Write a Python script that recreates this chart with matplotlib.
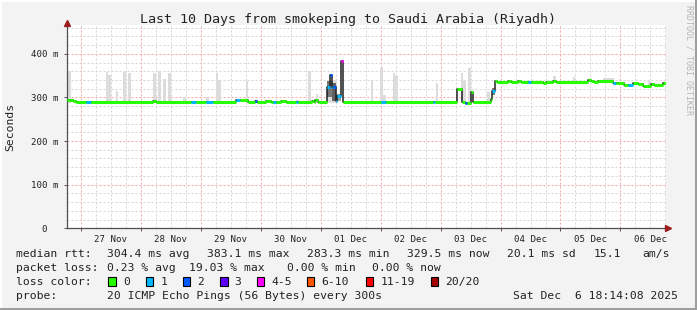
import numpy as np
import pandas as pd
import matplotlib
matplotlib.use("Agg")
import matplotlib.pyplot as plt
import matplotlib.dates as mdates
from matplotlib.lines import Line2D
from matplotlib.patches import Rectangle

W, H, DPI = 697, 310, 100
MONO = "DejaVu Sans Mono"

title = "Last 10 Days from smokeping to Saudi Arabia (Riyadh)"
start = pd.Timestamp("2025-11-26 18:14:08")
n_days = 10

# median rtt as steps: hours since start, value in ms, lost pings (of 20)
med_h = [0.0, 1.5, 2.7, 3.9, 7.9, 9.9, 34.7, 35.9, 49.9, 51.9, 55.9, 58.7,
         67.9, 69.5, 72.7, 75.5, 76.3, 79.9, 81.9, 82.7, 83.9, 85.9, 87.9,
         91.9, 92.7, 98.3, 99.1, 99.5, 100.7, 104.3, 105.5, 106.3, 106.7,
         107.9, 108.3, 109.9, 110.7, 125.9, 127.9, 146.7, 147.5, 156.3,
         158.3, 159.5, 160.3, 161.9, 162.7, 169.9, 170.3, 171.5, 172.3,
         176.7, 177.9, 180.7, 181.9, 184.7, 185.9, 190.7, 191.9, 194.7,
         195.9, 208.7, 209.9, 211.1, 212.7, 218.7, 219.9, 220.7, 223.1,
         224.7, 226.7, 228.7, 230.7, 233.9, 235.1, 236.7, 238.7, 240.0]
med_ms = [295, 293, 292, 290, 289, 290, 292, 290, 290, 290, 290, 290,
          293, 293, 290, 292, 290, 292, 290, 289, 290, 292, 290,
          290, 290, 292, 290, 295, 290, 325, 351, 325, 325,
          291, 303, 383, 290, 290, 290, 290, 290, 319,
          290, 287, 288, 312, 290, 296, 315, 338, 336,
          338, 336, 338, 336, 336, 336, 334, 336, 338,
          336, 340, 337, 336, 337, 334, 334, 332, 328,
          328, 334, 330, 327, 331, 329, 328, 332, 332]
med_loss = [0, 0, 0, 0, 1, 0, 0, 0, 1, 0, 1, 0,
            1, 0, 0, 2, 0, 0, 0, 1, 0, 0, 0,
            1, 0, 0, 0, 0, 0, 1, 2, 1, 2,
            1, 1, 4, 0, 1, 0, 1, 0, 0,
            0, 2, 0, 0, 0, 0, 1, 0, 0,
            0, 0, 0, 0, 1, 0, 0, 0, 0,
            0, 0, 0, 0, 0, 1, 0, 0, 0,
            1, 0, 0, 0, 0, 0, 0, 0, 0]

# light smoke (ping spread): start hour, width hours, low ms, high ms
smoke_h = [0.7, 15.9, 16.7, 19.9, 22.7, 24.7, 34.7, 36.7, 38.7, 40.7, 46.7,
           55.9, 59.9, 60.7, 71.9, 91.9, 96.7, 99.9, 104.3, 121.9, 125.5,
           126.7, 130.7, 131.5, 147.9, 150.3, 157.9, 158.7, 160.7, 168.3,
           194.7, 202.7, 214.7, 232.7]
smoke_w = [1.2, 0.8, 1.2, 0.8, 1.2, 1.2, 1.2, 1.2, 1.2, 1.2, 1.2,
           1.2, 0.8, 1.2, 0.8, 1.2, 1.2, 0.8, 4.0, 0.8, 1.2,
           1.2, 0.8, 1.2, 0.8, 1.6, 0.8, 1.2, 1.2, 1.2,
           1.2, 0.8, 4.4, 1.2]
smoke_lo = [287] * 30 + [332, 332, 332, 328]
smoke_hi = [360, 359, 351, 314, 359, 357, 356, 360, 342, 356, 301,
            300, 357, 340, 338, 294, 360, 308, 340, 340, 368,
            305, 357, 348, 333, 292, 357, 338, 368, 312,
            350, 347, 345, 338]

# darker smoke inside the loss spikes
dark_h = [104.3, 106.3, 108.3, 170.3]
dark_w = [2.0, 1.6, 1.6, 1.2]
dark_lo = [300, 292, 291, 305]
dark_hi = [338, 333, 307, 322]
dark_c = ["#777777", "#606060", "#9a9a9a", "#808080"]

loss_labels = ["0", "1", "2", "3", "4-5", "6-10", "11-19", "20/20"]
loss_colors = ["#26ff00", "#00b8ff", "#0059ff", "#5e00ff", "#ff00ff",
               "#ff5500", "#ff0000", "#a10000"]
loss_bins = [0, 1, 2, 3, 5, 10, 19, 20]

y_ticks = [0, 100, 200, 300, 400]
y_labels = ["0  ", "100 m", "200 m", "300 m", "400 m"]

stats_rtt = ["median rtt:", "304.4 ms avg", "383.1 ms max", "283.3 ms min",
             "329.5 ms now", "20.1 ms sd", "15.1", "am/s"]
stats_rtt_x = [16, 107.3, 207.3, 306.7, 407.3, 507.3, 593.3, 642.7]
stats_loss = ["packet loss:", "0.23 % avg", "19.03 % max", "0.00 % min", "0.00 % now"]
stats_loss_x = [16, 107.3, 189.3, 286.7, 372.3]
probe_text = "20 ICMP Echo Pings (56 Bytes) every 300s"
date_text = "Sat Dec  6 18:14:08 2025"


def fx(px):
    return px / W


def fy(py):
    return 1 - py / H


def loss_index(n):
    for i, b in enumerate(loss_bins):
        if n <= b:
            return i
    return len(loss_bins) - 1


fig = plt.figure(figsize=(W / DPI, H / DPI), dpi=DPI, facecolor="#f3f3f3")
ax = fig.add_axes([fx(66.5), fy(228.3), (666 - 66.5) / W, (228.3 - 25) / H])
ax.set_facecolor("white")

t0 = mdates.date2num(start.to_pydatetime())
ax.set_xlim(t0, t0 + n_days)
ax.set_ylim(0, 466)

# grid
dot = (0, (2, 2))
for v in range(20, 466, 20):
    if v % 100:
        ax.axhline(v, color="#d6d6d6", lw=0.72, ls=dot, zorder=0)
for v in range(100, 466, 100):
    ax.axhline(v, color="#f0a8a8", lw=0.72, ls=dot, zorder=0.5)
first_mid = mdates.date2num(start.normalize().to_pydatetime())
for k in range(0, (n_days + 1) * 4 + 1):
    t = first_mid + k * 0.25
    if t0 < t < t0 + n_days:
        if k % 4:
            ax.axvline(t, color="#d6d6d6", lw=0.72, ls=dot, zorder=0)
        else:
            ax.axvline(t, color="#f0a8a8", lw=0.72, ls=dot, zorder=0.5)

# smoke
sx = t0 + np.array(smoke_h) / 24
ax.bar(sx, np.array(smoke_hi) - np.array(smoke_lo), width=np.array(smoke_w) / 24,
       bottom=smoke_lo, align="edge", color="#dcdcdc", lw=0, zorder=1)
dx = t0 + np.array(dark_h) / 24
ax.bar(dx, np.array(dark_hi) - np.array(dark_lo), width=np.array(dark_w) / 24,
       bottom=dark_lo, align="edge", color=dark_c, lw=0, zorder=1.5)

# median line
mx = t0 + np.array(med_h) / 24
ax.step(mx, med_ms, where="post", color="#202020", lw=1.1, zorder=2)
cols = [loss_colors[loss_index(n)] for n in med_loss[:-1]]
ax.hlines(med_ms[:-1], mx[:-1], mx[1:], colors=cols, lw=2.2, zorder=3,
          capstyle="butt")

# axes styling
for s in ["top", "right"]:
    ax.spines[s].set_visible(False)
for s in ["left", "bottom"]:
    ax.spines[s].set_color("#505050")
    ax.spines[s].set_linewidth(0.9)

noon = [first_mid + d + 0.5 for d in range(1, n_days + 1)]
noon = [t for t in noon if t0 < t < t0 + n_days]
mids = [first_mid + d for d in range(1, n_days + 1) if t0 < first_mid + d < t0 + n_days]
ax.set_xticks(noon)
ax.set_xticklabels([mdates.num2date(t).strftime("%d %b") for t in noon])
ax.set_xticks(mids, minor=True)
ax.tick_params(axis="x", which="major", length=0, pad=4.5, labelsize=6.6,
               labelcolor="#222222")
ax.tick_params(axis="x", which="minor", length=2.5, width=0.7, color="#505050")
ax.set_yticks(y_ticks)
ax.set_yticklabels(y_labels)
ax.tick_params(axis="y", length=2.5, width=0.7, color="#505050", pad=3,
               labelsize=6.6, labelcolor="#222222")
for lab in ax.get_xticklabels() + ax.get_yticklabels():
    lab.set_family(MONO)

# axis arrows
ax.plot([0], [1.008], marker="^", ms=3.8, color="#9b1c1c", mec="#9b1c1c",
        transform=ax.transAxes, clip_on=False, zorder=5)
ax.plot([1.003], [0], marker=">", ms=3.8, color="#9b1c1c", mec="#9b1c1c",
        transform=ax.transAxes, clip_on=False, zorder=5)

# texts
fig.text(fx(348), fy(19), title, ha="center", va="center", family=MONO,
         size=9.6, color="#222222")
fig.text(fx(10), fy(127), "Seconds", ha="center", va="center", rotation=90,
         family=MONO, size=8.2, color="#222222")
fig.text(fx(689), fy(60), "RRDTOOL / TOBI OETIKER", ha="center", va="center",
         rotation=270, family=MONO, size=6.0, color="#b5b5b5")

row_y = [254, 268.3, 281.7, 296]
for s, x in zip(stats_rtt, stats_rtt_x):
    fig.text(fx(x), fy(row_y[0]), s, ha="left", va="center", family=MONO,
             size=8.2, color="#222222")
for s, x in zip(stats_loss, stats_loss_x):
    fig.text(fx(x), fy(row_y[1]), s, ha="left", va="center", family=MONO,
             size=8.2, color="#222222")
fig.text(fx(16), fy(row_y[2]), "loss color:", ha="left", va="center",
         family=MONO, size=8.2, color="#222222")
box_x = [108.3, 145.7, 182.7, 220, 256.7, 306.7, 365.7, 430.7]
for lab, c, bx in zip(loss_labels, loss_colors, box_x):
    fig.add_artist(Rectangle((fx(bx), fy(286)), 7.7 / W, 9.3 / H,
                             transform=fig.transFigure, facecolor=c,
                             edgecolor="black", lw=0.8))
    fig.text(fx(bx + 14.6), fy(row_y[2]), lab, ha="left", va="center",
             family=MONO, size=8.2, color="#222222")
fig.text(fx(16), fy(row_y[3]), "probe:", ha="left", va="center",
         family=MONO, size=8.2, color="#222222")
fig.text(fx(107.3), fy(row_y[3]), probe_text, ha="left", va="center",
         family=MONO, size=8.2, color="#222222")
fig.text(fx(513.3), fy(row_y[3]), date_text, ha="left", va="center",
         family=MONO, size=8.2, color="#222222")

# 3D frame
fig.add_artist(Line2D([0, 1], [fy(1), fy(1)], transform=fig.transFigure,
                      color="white", lw=1.5))
fig.add_artist(Line2D([fx(1), fx(1)], [0, 1], transform=fig.transFigure,
                      color="white", lw=1.5))
fig.add_artist(Line2D([0, 1], [fy(308.5), fy(308.5)], transform=fig.transFigure,
                      color="#9e9e9e", lw=2.2))
fig.add_artist(Line2D([fx(695.5), fx(695.5)], [0, 1], transform=fig.transFigure,
                      color="#9e9e9e", lw=2.2))

fig.savefig("out.png", dpi=DPI, facecolor=fig.get_facecolor())
